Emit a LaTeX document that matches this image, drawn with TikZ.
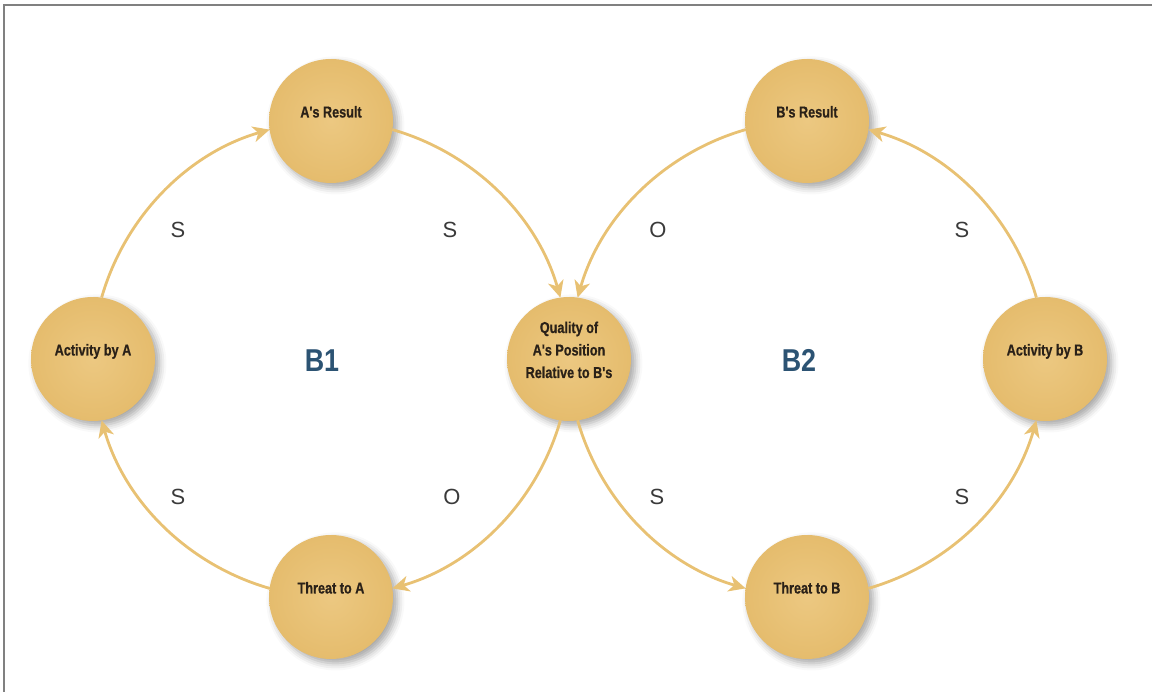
\documentclass[tikz,border=0pt]{standalone}
\usepackage{fontspec}
\setmainfont{Liberation Sans}
\newfontfamily\ballfont{Liberation Sans}[FakeStretch=0.8, BoldFeatures={FakeBold=0.6}]
\newfontfamily\loopfont{Liberation Sans}[FakeStretch=0.85]
\usetikzlibrary{arrows.meta,shadows.blur}

\definecolor{ballin}{HTML}{ECC881}
\definecolor{ballout}{HTML}{E5BC6D}
\definecolor{flowc}{HTML}{E8C173}
\definecolor{inkc}{HTML}{2A2118}
\definecolor{polc}{HTML}{3A3A3A}
\definecolor{loopc}{HTML}{2C5373}
\definecolor{framec}{HTML}{808080}

% text inside a ball, set slightly above its centre
\newcommand\balltext[1]{\raisebox{2.3pt}[0pt][0pt]{\begin{tabular}{@{}c@{}}#1\end{tabular}}}

\begin{document}
\begin{tikzpicture}[x=0.02cm, y=0.02cm,
  ball/.style={circle, minimum size=2.48cm, inner sep=0pt, outer sep=0pt,
    inner color=ballin, outer color=ballout,
    blur shadow={shadow xshift=2.5pt, shadow yshift=-2.5pt,
      shadow blur radius=4pt, shadow opacity=35},
    text=inkc, font=\ballfont\bfseries\fontsize{9}{12.8}\selectfont},
  flow/.style={draw=flowc, line width=1.6pt,
    -{Stealth[length=9.5pt, width=9pt, inset=2.8pt]}, looseness=0.91},
  pol/.style={text=polc, font=\fontsize{12.5}{14}\selectfont},
  loopname/.style={text=loopc, font=\loopfont\bfseries\fontsize{18}{20}\selectfont}]

\useasboundingbox (0,0) rectangle (1152,692);

% frame edges
\coordinate (fl) at (4,0);
\coordinate (fc) at (4,687);
\coordinate (fr) at (1152,687);
\draw[framec, line width=0.8pt] (fl) -- (fc) -- (fr);

% balls
\node[ball] (Ares) at (331,571) {\balltext{A's Result}};
\node[ball] (ActA) at (93,333)  {\balltext{Activity by A}};
\node[ball] (Qual) at (569,333) {\balltext{Quality of\\A's Position\\Relative to B's}};
\node[ball] (ThrA) at (331,95)  {\balltext{Threat to A}};
\node[ball] (Bres) at (807,571) {\balltext{B's Result}};
\node[ball] (ActB) at (1045,333){\balltext{Activity by B}};
\node[ball] (ThrB) at (807,95)  {\balltext{Threat to B}};

% loop B1
\draw[flow] (ActA.82)  to[out=74,  in=196] (Ares.188);
\draw[flow] (Ares.352) to[out=344, in=106] (Qual.98);
\draw[flow] (Qual.262) to[out=254, in=16]  (ThrA.8);
\draw[flow] (ThrA.172) to[out=164, in=286] (ActA.278);

% loop B2
\draw[flow] (Bres.188) to[out=196, in=74]  (Qual.82);
\draw[flow] (Qual.278) to[out=286, in=164] (ThrB.172);
\draw[flow] (ThrB.8)   to[out=16,  in=254] (ActB.262);
\draw[flow] (ActB.98)  to[out=106, in=344] (Bres.352);

% polarities
\node[pol] (p1) at (178,462) {S};
\node[pol] (p2) at (450,462) {S};
\node[pol] (p3) at (658,462) {O};
\node[pol] (p4) at (962,462) {S};
\node[pol] (p5) at (178,195) {S};
\node[pol] (p6) at (452,195) {O};
\node[pol] (p7) at (657,195) {S};
\node[pol] (p8) at (962,195) {S};

% loop names
\node[loopname] (B1) at (322,331) {B1};
\node[loopname] (B2) at (799,332) {B2};
\end{tikzpicture}
\end{document}
